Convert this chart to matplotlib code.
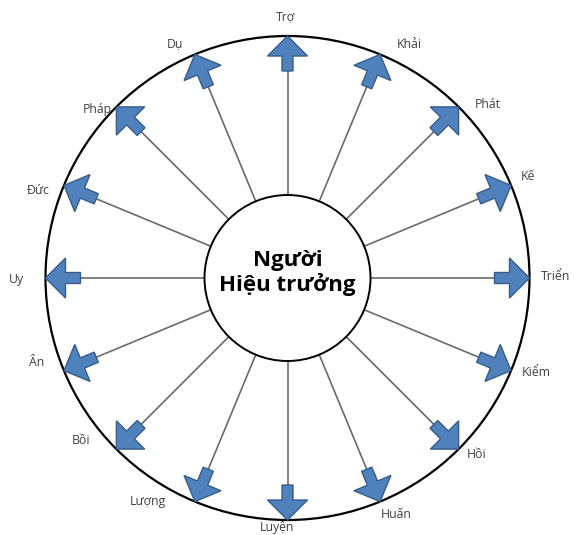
import numpy as np
import matplotlib
matplotlib.use("Agg")
import matplotlib.pyplot as plt
from matplotlib.patches import Circle, FancyArrow

# ---- data ----
labels = ["Trợ", "Khải", "Phát", "Kế", "Triển", "Kiểm", "Hồi", "Huấn",
          "Luyện", "Lượng", "Bồi", "Ân", "Uy", "Đức", "Pháp", "Dụ"]
center_text = "Người\nHiệu trưởng"

# ---- layout (pixel coordinates) ----
W, H = 574, 535
cx, cy = 287.5, 278
R_big = 242
R_in = 83
arrow_len = 35
label_xy = [(286, 17), (409, 44), (488, 104), (528, 176), (556, 277),
            (536, 372), (477, 454), (396, 515), (277, 528), (148, 502),
            (81, 440), (37, 363), (16, 279), (38, 191), (97, 110), (175, 44)]

plt.rcParams['font.family'] = ['Open Sans', 'Noto Sans', 'DejaVu Sans']
fig = plt.figure(figsize=(W / 100, H / 100), dpi=100)
ax = fig.add_axes([0, 0, 1, 1])
ax.set_xlim(0, W)
ax.set_ylim(H, 0)
ax.axis('off')

n = len(labels)
for i, lab in enumerate(labels):
    th = np.deg2rad(90 - i * 360 / n)
    ux, uy = np.cos(th), -np.sin(th)
    r0, r1 = R_in, R_big - arrow_len
    ax.plot([cx + ux * r0, cx + ux * (r1 + 2)], [cy + uy * r0, cy + uy * (r1 + 2)],
            color='#6a6a6a', lw=1.2, zorder=1, solid_capstyle='butt')
    bx, by = cx + ux * r1, cy + uy * r1
    arr = FancyArrow(bx, by, ux * arrow_len, uy * arrow_len, width=11,
                     head_width=40, head_length=20, length_includes_head=True,
                     facecolor='#4F81BD', edgecolor='#385D8A', lw=1.0, zorder=3)
    ax.add_patch(arr)
    lx, ly = label_xy[i]
    ax.text(lx, ly, lab, ha='center', va='center', fontsize=8.8,
            color='#404040', zorder=4)

ax.add_patch(Circle((cx, cy), R_big, fill=False, edgecolor='black', lw=1.6, zorder=2))
ax.add_patch(Circle((cx, cy), R_in, facecolor='white', edgecolor='black', lw=1.4, zorder=2))
ax.text(cx, cy - 5, center_text, ha='center', va='center', fontsize=16,
        fontweight='bold', color='black', linespacing=1.15, zorder=5)

fig.savefig('out.png', dpi=100)
